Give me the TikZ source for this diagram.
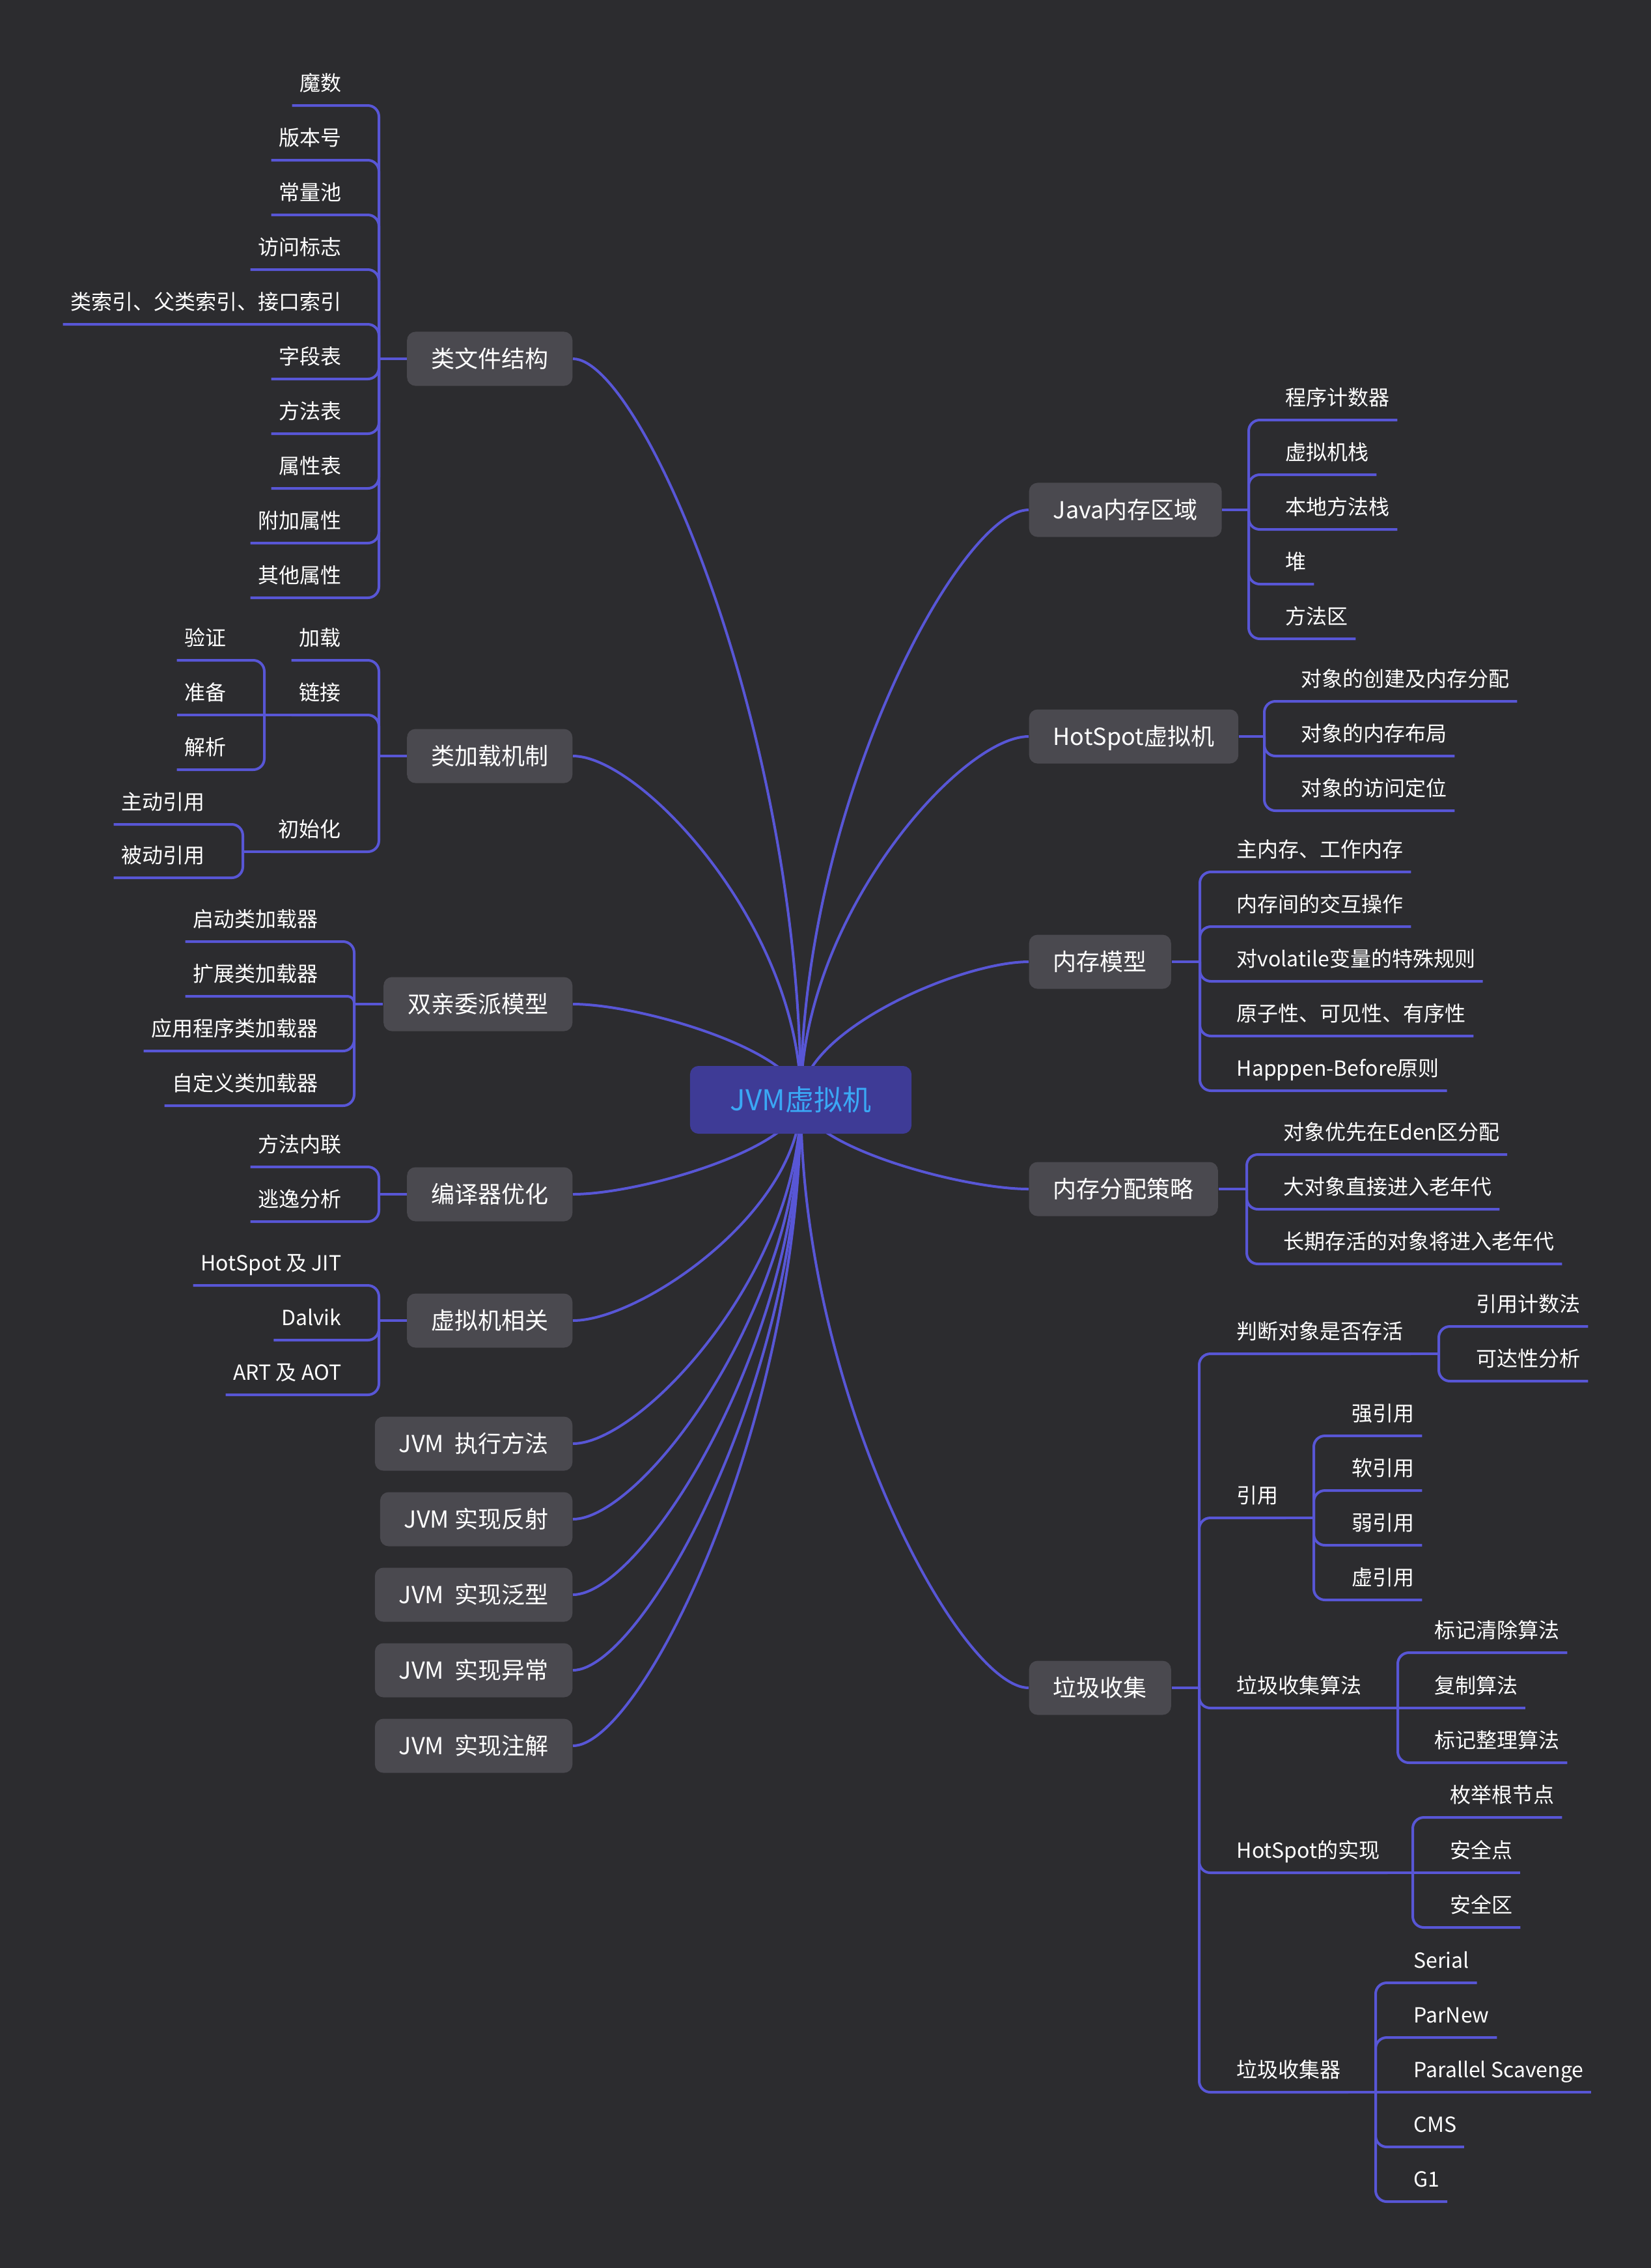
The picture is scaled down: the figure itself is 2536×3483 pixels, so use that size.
\documentclass[tikz,border=0pt]{standalone}
\usepackage{fontspec}
\setmainfont{Noto Sans CJK SC}
\usetikzlibrary{calc}
\definecolor{bgc}{HTML}{2C2C2F}
\definecolor{tbox}{HTML}{4A494F}
\definecolor{rbox}{HTML}{3E3B96}
\definecolor{rtxt}{HTML}{3AA8F5}
\definecolor{lnc}{HTML}{5856D6}
\newcommand\leaffont{\fontsize{9.1pt}{11pt}\selectfont}
\newcommand\topicfont{\fontsize{10.24pt}{12pt}\selectfont}
\newcommand\rootfont{\fontsize{12.5pt}{15pt}\selectfont}
\pgfdeclarelayer{back}
\pgfdeclarelayer{edges}
\pgfsetlayers{back,edges,main}
\tikzset{
  br/.style={draw=lnc, line width=0.04cm, rounded corners=0.17cm},
  cl/.style={draw=lnc, line width=0.04cm},
  leaf/.style={text=white, font=\leaffont, inner xsep=0.11cm, inner ysep=0pt, text height=0.30cm, text depth=0.22cm},
  topic/.style={fill=tbox, text=white, font=\topicfont, rounded corners=0.13cm, inner xsep=0.37cm, inner ysep=0pt, minimum height=0.83cm, text height=0.32cm, text depth=0.06cm},
  root/.style={fill=rbox, text=rtxt, font=\rootfont, rounded corners=0.13cm, minimum width=3.4cm, minimum height=1.04cm, inner ysep=0pt, text height=0.40cm, text depth=0.08cm},
}
\begin{document}
\begin{tikzpicture}[x=0.01cm,y=-0.01cm]
\begin{pgfonlayer}{back}
\fill[bgc] (0,0) rectangle (2536,3483);
\end{pgfonlayer}
\useasboundingbox (0,0) rectangle (2536,3483);

% ---------- root ----------
\node[root] (c) at (1230,1689) {JVM虚拟机};

% ---------- left topics ----------
\node[topic,anchor=east] (L1) at (880,551) {类文件结构};
\node[topic,anchor=east] (L2) at (880,1161) {类加载机制};
\node[topic,anchor=east] (L3) at (880,1542) {双亲委派模型};
\node[topic,anchor=east] (L4) at (880,1834) {编译器优化};
\node[topic,anchor=east] (L5) at (880,2028) {虚拟机相关};
\node[topic,anchor=east] (L6) at (880,2217) {JVM\ \ 执行方法};
\node[topic,anchor=east] (L7) at (880,2333) {JVM 实现反射};
\node[topic,anchor=east] (L8) at (880,2449) {JVM\ \ 实现泛型};
\node[topic,anchor=east] (L9) at (880,2565) {JVM\ \ 实现异常};
\node[topic,anchor=east] (L10) at (880,2681) {JVM\ \ 实现注解};

% ---------- right topics ----------
\node[topic,anchor=west] (R1) at (1580,783) {Java内存区域};
\node[topic,anchor=west] (R2) at (1580,1131) {HotSpot虚拟机};
\node[topic,anchor=west] (R3) at (1580,1477) {内存模型};
\node[topic,anchor=west] (R4) at (1580,1826) {内存分配策略};
\node[topic,anchor=west] (R5) at (1580,2592) {垃圾收集};

% ---------- curves from root ----------
\begin{pgfonlayer}{edges}
\draw[cl] (c.center) .. controls +(0,-569) and +(105,0) .. (L1.east);
\draw[cl] (c.center) .. controls +(0,-264) and +(105,0) .. (L2.east);
\draw[cl] (c.center) .. controls +(0,-74) and +(105,0) .. (L3.east);
\draw[cl] (c.center) .. controls +(0,73) and +(105,0) .. (L4.east);
\draw[cl] (c.center) .. controls +(0,170) and +(105,0) .. (L5.east);
\draw[cl] (c.center) .. controls +(0,264) and +(105,0) .. (L6.east);
\draw[cl] (c.center) .. controls +(0,322) and +(105,0) .. (L7.east);
\draw[cl] (c.center) .. controls +(0,380) and +(105,0) .. (L8.east);
\draw[cl] (c.center) .. controls +(0,438) and +(105,0) .. (L9.east);
\draw[cl] (c.center) .. controls +(0,496) and +(105,0) .. (L10.east);
\draw[cl] (c.center) .. controls +(0,-453) and +(-105,0) .. (R1.west);
\draw[cl] (c.center) .. controls +(0,-279) and +(-105,0) .. (R2.west);
\draw[cl] (c.center) .. controls +(0,-106) and +(-105,0) .. (R3.west);
\draw[cl] (c.center) .. controls +(0,69) and +(-105,0) .. (R4.west);
\draw[cl] (c.center) .. controls +(0,452) and +(-105,0) .. (R5.west);
\end{pgfonlayer}

% ---------- L1 ----------
\node[leaf,anchor=south east] (a1) at (536,162) {魔数};
\node[leaf,anchor=south east] (a2) at (536,246) {版本号};
\node[leaf,anchor=south east] (a3) at (536,330) {常量池};
\node[leaf,anchor=south east] (a4) at (536,414) {访问标志};
\node[leaf,anchor=south east] (a5) at (536,498) {类索引、父类索引、接口索引};
\node[leaf,anchor=south east] (a6) at (536,582) {字段表};
\node[leaf,anchor=south east] (a7) at (536,666) {方法表};
\node[leaf,anchor=south east] (a8) at (536,750) {属性表};
\node[leaf,anchor=south east] (a9) at (536,834) {附加属性};
\node[leaf,anchor=south east] (a10) at (536,918) {其他属性};
\coordinate (J1) at (582,551);
\draw[br] (L1.west) -- (J1);
\foreach \n in {a1,a2,a3,a4,a5,a6,a7,a8,a9,a10}
  \draw[br] (J1) |- (\n.south east) -- (\n.south west);

% ---------- L2 ----------
\node[leaf,anchor=south east] (b1) at (535,1014) {加载};
\node[leaf,anchor=south east] (b2) at (535,1098) {链接};
\node[leaf,anchor=south east] (b3) at (535,1308) {初始化};
\node[leaf,anchor=south east] (b21) at (359,1014) {验证};
\node[leaf,anchor=south east] (b22) at (359,1098) {准备};
\node[leaf,anchor=south east] (b23) at (359,1182) {解析};
\node[leaf,anchor=south east] (b31) at (326,1266) {主动引用};
\node[leaf,anchor=south east] (b32) at (326,1348) {被动引用};
\coordinate (J2) at (582,1161);
\coordinate (J2b) at (406,1098);
\coordinate (J2c) at (373,1308);
\draw[br] (L2.west) -- (J2);
\foreach \n in {b1,b2,b3}
  \draw[br] (J2) |- (\n.south east) -- (\n.south west);
\draw[br] (b2.south west) -- (J2b);
\draw[br] (J2b) |- (b21.south east) -- (b21.south west);
\draw[br] (J2b) -- (b22.south west);
\draw[br] (J2b) |- (b23.south east) -- (b23.south west);
\draw[br] (b3.south west) -- (J2c);
\draw[br] (J2c) |- (b31.south east) -- (b31.south west);
\draw[br] (J2c) |- (b32.south east) -- (b32.south west);

% ---------- L3 ----------
\node[leaf,anchor=south east] (c1) at (500,1446) {启动类加载器};
\node[leaf,anchor=south east] (c2) at (500,1530) {扩展类加载器};
\node[leaf,anchor=south east] (c3) at (500,1614) {应用程序类加载器};
\node[leaf,anchor=south east] (c4) at (500,1698) {自定义类加载器};
\coordinate (J3) at (544,1542);
\draw[br] (L3.west) -- (J3);
\draw[br] (J3) |- (c1.south east) -- (c1.south west);
\draw[br,rounded corners=0.1cm] (J3) |- (c2.south east) -- (c2.south west);
\draw[br] (J3) |- (c3.south east) -- (c3.south west);
\draw[br] (J3) |- (c4.south east) -- (c4.south west);

% ---------- L4 ----------
\node[leaf,anchor=south east] (d1) at (536,1792) {方法内联};
\node[leaf,anchor=south east] (d2) at (536,1876) {逃逸分析};
\coordinate (J4) at (582,1834);
\draw[br] (L4.west) -- (J4);
\foreach \n in {d1,d2}
  \draw[br] (J4) |- (\n.south east) -- (\n.south west);

% ---------- L5 ----------
\node[leaf,anchor=south east] (e1) at (536,1974) {HotSpot 及 JIT};
\node[leaf,anchor=south east] (e2) at (536,2058) {Dalvik};
\node[leaf,anchor=south east] (e3) at (536,2142) {ART 及 AOT};
\coordinate (J5) at (582,2028);
\draw[br] (L5.west) -- (J5);
\foreach \n in {e1,e2,e3}
  \draw[br] (J5) |- (\n.south east) -- (\n.south west);

% ---------- R1 ----------
\node[leaf,anchor=south west] (f1) at (1963,645) {程序计数器};
\node[leaf,anchor=south west] (f2) at (1963,729) {虚拟机栈};
\node[leaf,anchor=south west] (f3) at (1963,813) {本地方法栈};
\node[leaf,anchor=south west] (f4) at (1963,897) {堆};
\node[leaf,anchor=south west] (f5) at (1963,981) {方法区};
\coordinate (J6) at (1918,783);
\draw[br] (R1.east) -- (J6);
\foreach \n in {f1,f2,f3,f4,f5}
  \draw[br] (J6) |- (\n.south west) -- (\n.south east);

% ---------- R2 ----------
\node[leaf,anchor=south west] (g1) at (1987,1077) {对象的创建及内存分配};
\node[leaf,anchor=south west] (g2) at (1987,1161) {对象的内存布局};
\node[leaf,anchor=south west] (g3) at (1987,1245) {对象的访问定位};
\coordinate (J7) at (1942,1131);
\draw[br] (R2.east) -- (J7);
\foreach \n in {g1,g2,g3}
  \draw[br] (J7) |- (\n.south west) -- (\n.south east);

% ---------- R3 ----------
\node[leaf,anchor=south west] (h1) at (1888,1339) {主内存、工作内存};
\node[leaf,anchor=south west] (h2) at (1888,1423) {内存间的交互操作};
\node[leaf,anchor=south west] (h3) at (1888,1507) {对volatile变量的特殊规则};
\node[leaf,anchor=south west] (h4) at (1888,1591) {原子性、可见性、有序性};
\node[leaf,anchor=south west] (h5) at (1888,1675) {Happpen-Before原则};
\coordinate (J8) at (1843,1477);
\draw[br] (R3.east) -- (J8);
\foreach \n in {h1,h2,h3,h4,h5}
  \draw[br] (J8) |- (\n.south west) -- (\n.south east);

% ---------- R4 ----------
\node[leaf,anchor=south west] (i1) at (1960,1773) {对象优先在Eden区分配};
\node[leaf,anchor=south west] (i2) at (1960,1857) {大对象直接进入老年代};
\node[leaf,anchor=south west] (i3) at (1960,1941) {长期存活的对象将进入老年代};
\coordinate (J9) at (1915,1826);
\draw[br] (R4.east) -- (J9);
\foreach \n in {i1,i2,i3}
  \draw[br] (J9) |- (\n.south west) -- (\n.south east);

% ---------- R5 ----------
\node[leaf,anchor=south west] (k1) at (1888,2079) {判断对象是否存活};
\node[leaf,anchor=south west] (k2) at (1888,2331) {引用};
\node[leaf,anchor=south west] (k3) at (1888,2623) {垃圾收集算法};
\node[leaf,anchor=south west] (k4) at (1888,2876) {HotSpot的实现};
\node[leaf,anchor=south west] (k5) at (1888,3213) {垃圾收集器};
\coordinate (J10) at (1842,2592);
\draw[br] (R5.east) -- (J10);
\foreach \n in {k1,k2,k3,k4,k5}
  \draw[br] (J10) |- (\n.south west) -- (\n.south east);

\node[leaf,anchor=south west] (k11) at (2256,2037) {引用计数法};
\node[leaf,anchor=south west] (k12) at (2256,2121) {可达性分析};
\coordinate (Jk1) at (2210,2079);
\draw[br] (k1.south east) -- (Jk1);
\foreach \n in {k11,k12}
  \draw[br] (Jk1) |- (\n.south west) -- (\n.south east);

\node[leaf,anchor=south west] (k21) at (2065,2205) {强引用};
\node[leaf,anchor=south west] (k22) at (2065,2289) {软引用};
\node[leaf,anchor=south west] (k23) at (2065,2373) {弱引用};
\node[leaf,anchor=south west] (k24) at (2065,2457) {虚引用};
\coordinate (Jk2) at (2018,2331);
\draw[br] (k2.south east) -- (Jk2);
\foreach \n in {k21,k22,k23,k24}
  \draw[br] (Jk2) |- (\n.south west) -- (\n.south east);

\node[leaf,anchor=south west] (k31) at (2192,2538) {标记清除算法};
\node[leaf,anchor=south west] (k32) at (2192,2623) {复制算法};
\node[leaf,anchor=south west] (k33) at (2192,2707) {标记整理算法};
\coordinate (Jk3) at (2147,2623);
\draw[br] (k3.south east) -- (Jk3);
\draw[br] (Jk3) |- (k31.south west) -- (k31.south east);
\draw[br] (Jk3) -- (k32.south east);
\draw[br] (Jk3) |- (k33.south west) -- (k33.south east);

\node[leaf,anchor=south west] (k41) at (2216,2791) {枚举根节点};
\node[leaf,anchor=south west] (k42) at (2216,2876) {安全点};
\node[leaf,anchor=south west] (k43) at (2216,2960) {安全区};
\coordinate (Jk4) at (2170,2876);
\draw[br] (k4.south east) -- (Jk4);
\draw[br] (Jk4) |- (k41.south west) -- (k41.south east);
\draw[br] (Jk4) -- (k42.south east);
\draw[br] (Jk4) |- (k43.south west) -- (k43.south east);

\node[leaf,anchor=south west] (k51) at (2160,3045) {Serial};
\node[leaf,anchor=south west] (k52) at (2160,3129) {ParNew};
\node[leaf,anchor=south west] (k53) at (2160,3213) {Parallel Scavenge};
\node[leaf,anchor=south west] (k54) at (2160,3297) {CMS};
\node[leaf,anchor=south west] (k55) at (2160,3381) {G1};
\coordinate (Jk5) at (2113,3213);
\draw[br] (k5.south east) -- (Jk5);
\draw[br] (Jk5) |- (k51.south west) -- (k51.south east);
\draw[br] (Jk5) |- (k52.south west) -- (k52.south east);
\draw[br] (Jk5) -- (k53.south east);
\draw[br] (Jk5) |- (k54.south west) -- (k54.south east);
\draw[br] (Jk5) |- (k55.south west) -- (k55.south east);
\end{tikzpicture}
\end{document}
